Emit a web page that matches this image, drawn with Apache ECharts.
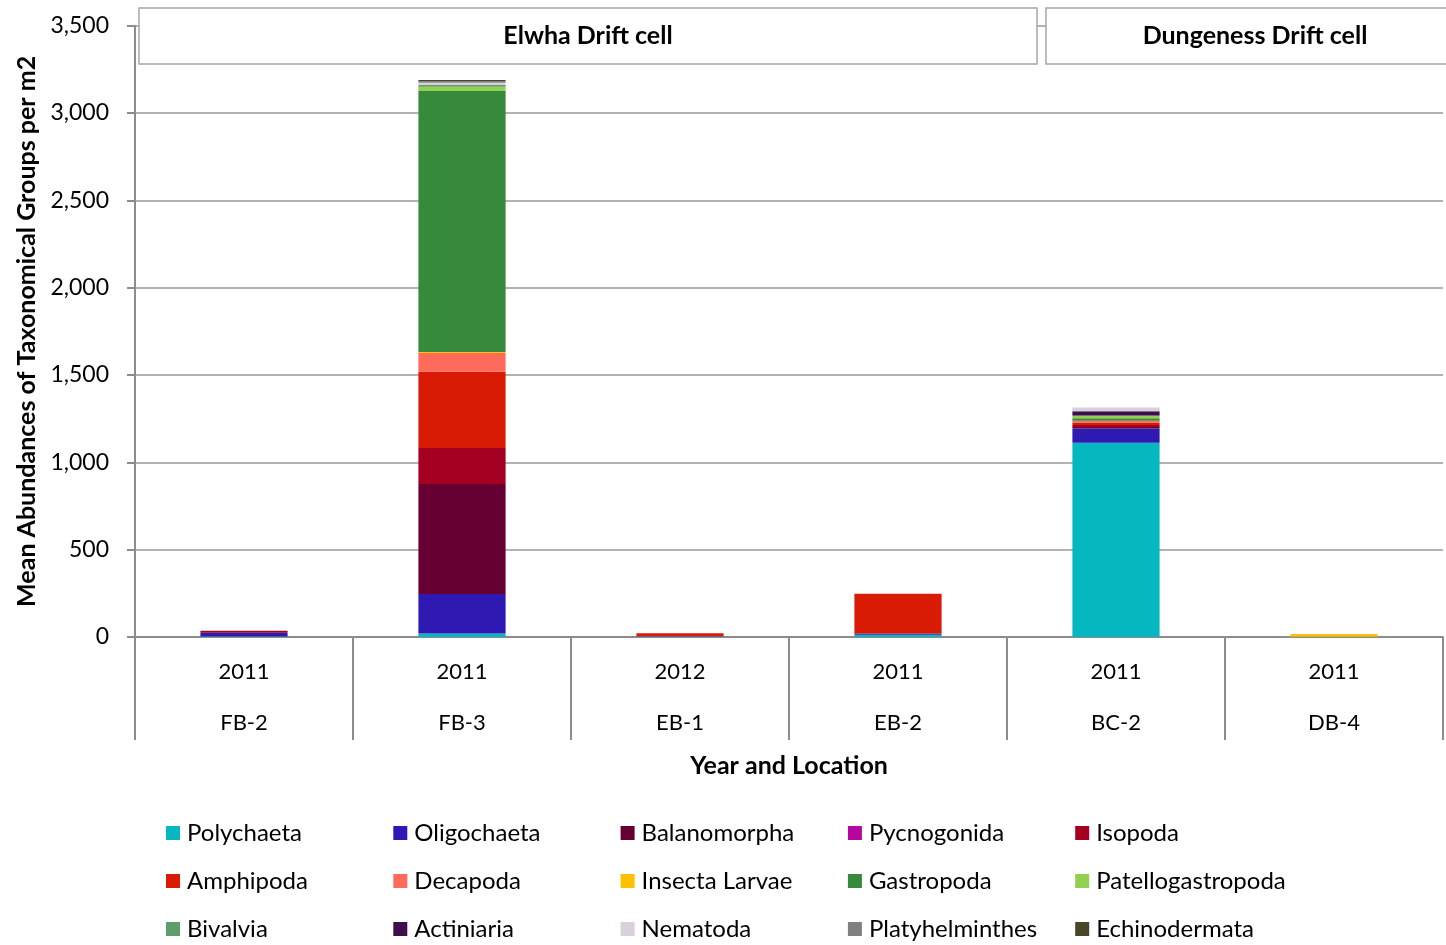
<!DOCTYPE html>
<html>
<head>
<meta charset="utf-8">
<script src="https://cdn.jsdelivr.net/npm/echarts@6/dist/echarts.min.js"></script>
<style>
  html, body { margin: 0; padding: 0; background: #fff; }
  #chart { width: 1446px; height: 945px; }
</style>
</head>
<body>
<div id="chart"></div>
<script>
// Sampling sites (year / location) along the x axis
const years = ['2011', '2011', '2012', '2011', '2011', '2011'];
const locations = ['FB-2', 'FB-3', 'EB-1', 'EB-2', 'BC-2', 'DB-4'];

// Mean abundance per m2 for each taxonomic group, one value per site
const taxa = ['Polychaeta', 'Oligochaeta', 'Balanomorpha', 'Pycnogonida', 'Isopoda',
  'Amphipoda', 'Decapoda', 'Insecta Larvae', 'Gastropoda', 'Patellogastropoda',
  'Bivalvia', 'Actiniaria', 'Nematoda', 'Platyhelminthes', 'Echinodermata'];

const polychaeta        = [3, 20, 3, 13, 1112, 0];
const oligochaeta       = [22, 226, 1, 7, 82, 0];
const balanomorpha      = [0, 630, 0, 0, 8, 0];
const pycnogonida       = [0, 0, 0, 0, 0, 0];
const isopoda           = [11, 206, 0, 0, 12, 0];
const amphipoda         = [0, 437, 18, 228, 14, 1];
const decapoda          = [0, 107, 0, 0, 10, 0];
const insectaLarvae     = [0, 6, 0, 0, 0, 16];
const gastropoda        = [0, 1494, 0, 0, 14, 0];
const patellogastropoda = [0, 25, 0, 0, 13, 0];
const bivalvia          = [0, 9, 0, 0, 3, 0];
const actiniaria        = [0, 0, 0, 0, 25, 0];
const nematoda          = [0, 13, 0, 0, 21, 0];
const platyhelminthes   = [0, 10, 0, 0, 0, 0];
const echinodermata     = [0, 6, 0, 0, 0, 0];

const values = [polychaeta, oligochaeta, balanomorpha, pycnogonida, isopoda,
  amphipoda, decapoda, insectaLarvae, gastropoda, patellogastropoda,
  bivalvia, actiniaria, nematoda, platyhelminthes, echinodermata];

// Y axis ticks
const yTicks = [0, 500, 1000, 1500, 2000, 2500, 3000, 3500];

// Drift cell panel headers
const cellNames = ['Elwha Drift cell', 'Dungeness Drift cell'];

const colors = ['#04B7C1', '#2E19B3', '#660033', '#B5079E', '#A50021',
  '#D91A04', '#FF6B5B', '#FFC000', '#378A3B', '#92D050',
  '#5E9E6B', '#3E0F4A', '#D8D0DA', '#808080', '#4A4428'];

const FONT = 'Lato';
const chart = echarts.init(document.getElementById('chart'));

const series = taxa.map((name, i) => ({
  name: name,
  type: 'bar',
  stack: 'total',
  barWidth: '40%',
  itemStyle: { color: colors[i] },
  emphasis: { disabled: true },
  data: values[i]
}));

// Legend laid out in five columns of three rows
const legends = [];
for (let c = 0; c < 5; c++) {
  legends.push({
    orient: 'vertical',
    left: 166 + c * 227.3,
    top: 821,
    height: 140,
    padding: 0,
    itemWidth: 14,
    itemHeight: 14,
    itemGap: 24,
    icon: 'rect',
    selectedMode: false,
    textStyle: { fontFamily: FONT, fontSize: 24, lineHeight: 24, color: '#000', padding: [0, 0, 0, 2] },
    data: [taxa[c], taxa[c + 5], taxa[c + 10]]
  });
}

const option = {
  animation: false,
  color: colors,
  textStyle: { fontFamily: FONT },
  grid: { left: 135, right: 3, top: 25.7, bottom: 308, containLabel: false },
  legend: legends,
  xAxis: {
    type: 'category',
    data: locations,
    axisLine: { show: true, lineStyle: { color: '#8c8c8c', width: 2 } },
    axisTick: { show: true, length: 103, lineStyle: { color: '#8c8c8c', width: 2 } },
    axisLabel: {
      margin: 9.5,
      fontFamily: FONT,
      fontSize: 22,
      color: '#000',
      lineHeight: 51,
      formatter: (v, idx) => years[idx] + '\n' + v
    },
    name: 'Year and Location',
    nameLocation: 'middle',
    nameGap: 109,
    nameTextStyle: { fontFamily: FONT, fontSize: 25, fontWeight: 'bold', color: '#000' }
  },
  yAxis: {
    type: 'value',
    min: yTicks[0],
    max: yTicks[yTicks.length - 1],
    interval: yTicks[1] - yTicks[0],
    axisLine: { show: true, lineStyle: { color: '#8c8c8c', width: 2 } },
    axisTick: { show: true, length: 8, lineStyle: { color: '#8c8c8c', width: 2 } },
    splitLine: { show: true, lineStyle: { color: '#999999', width: 1.5 } },
    axisLabel: {
      margin: 26,
      fontFamily: FONT,
      fontSize: 23,
      color: '#000',
      formatter: v => v.toLocaleString('en-US')
    },
    name: 'Mean Abundances of Taxonomical Groups per m2',
    nameLocation: 'middle',
    nameGap: 96,
    nameTextStyle: { fontFamily: FONT, fontSize: 25, fontWeight: 'bold', color: '#000' }
  },
  graphic: {
    elements: [
      {
        type: 'rect', z: 100,
        shape: { x: 139, y: 8, width: 898, height: 56 },
        style: { fill: '#fff', stroke: '#a6a6a6', lineWidth: 1.5 }
      },
      {
        type: 'text', z: 101, x: 588, y: 36,
        style: { text: cellNames[0], fontFamily: FONT, fontSize: 25, fontWeight: 'bold',
          fill: '#000', align: 'center', verticalAlign: 'middle' }
      },
      {
        type: 'rect', z: 100,
        shape: { x: 1046, y: 8, width: 420, height: 56 },
        style: { fill: '#fff', stroke: '#a6a6a6', lineWidth: 1.5 }
      },
      {
        type: 'text', z: 101, x: 1255, y: 36,
        style: { text: cellNames[1], fontFamily: FONT, fontSize: 25, fontWeight: 'bold',
          fill: '#000', align: 'center', verticalAlign: 'middle' }
      }
    ]
  },
  series: series
};

chart.setOption(option);
</script>
</body>
</html>
